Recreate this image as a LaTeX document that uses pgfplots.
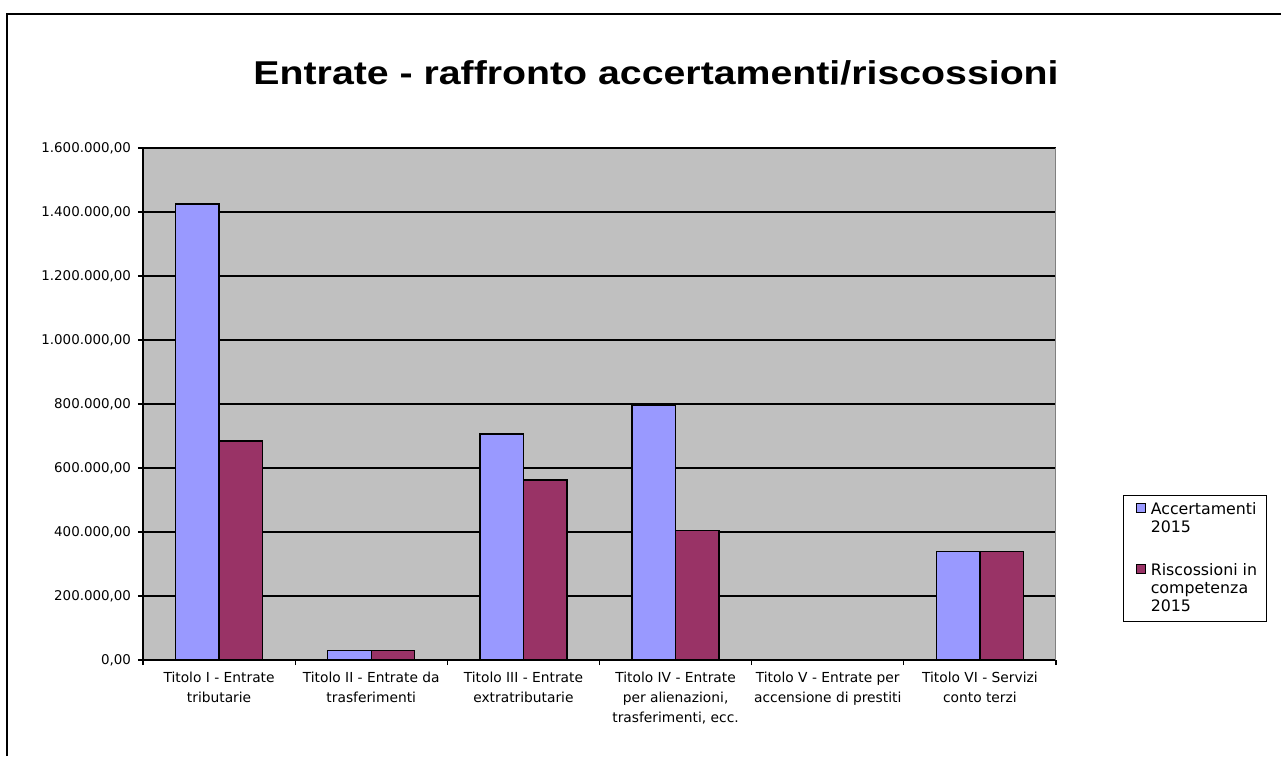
\documentclass[border=0pt]{standalone}
\usepackage{fontspec}
\setmainfont{DejaVu Sans}
\newfontfamily\titlefont[FakeStretch=1.19]{Liberation Sans}
\usepackage{pgfplots}
\pgfplotsset{compat=1.18}

\definecolor{accblue}{HTML}{9999FF}
\definecolor{riscred}{HTML}{993366}
\definecolor{plotgray}{HTML}{C0C0C0}

\begin{document}
\begin{tikzpicture}
\useasboundingbox (0,0) rectangle (640.5pt,378pt);
% outer frame of the chart area
\draw[line width=1pt] (3.5pt,0pt) -- (3.5pt,371pt) -- (640.5pt,371pt);

\begin{axis}[
    at={(71.5pt,48pt)}, anchor=south west,
    scale only axis,
    width=456.5pt, height=256pt,
    axis background/.style={fill=plotgray},
    axis x line=bottom, axis y line=left,
    axis line style={-, black, line width=0.7pt},
    ymin=0, ymax=1600000,
    ytick={0,200000,...,1600000},
    scaled y ticks=false,
    ymajorgrids,
    grid style={black, line width=0.6pt},
    xmin=-0.5, xmax=5.5,
    xtick={-0.5,0.5,1.5,2.5,3.5,4.5,5.5},
    x tick label as interval,
    xticklabels={
        {Titolo I - Entrate\\tributarie},
        {Titolo II - Entrate da\\trasferimenti},
        {Titolo III - Entrate\\extratributarie},
        {Titolo IV - Entrate\\per alienazioni,\\trasferimenti, ecc.},
        {Titolo V - Entrate per\\accensione di prestiti},
        {Titolo VI - Servizi\\conto terzi},
        {}},
    xticklabel style={font=\fontsize{6.9}{10}\selectfont, align=center},
    yticklabel style={font=\fontsize{6.7}{8}\selectfont},
    /pgf/number format/.cd, fixed, fixed zerofill, precision=2, use comma,
        assume math mode=true,
    /pgfplots/.cd,
    tick align=outside,
    major tick length=2.5pt,
    tick style={black, line width=0.6pt},
    ybar=0pt,
    bar width=21.75pt,
    every axis plot/.append style={draw=black, line width=0.7pt},
    title={\titlefont\bfseries\fontsize{16.5}{18}\selectfont Entrate - raffronto accertamenti/riscossioni},
    title style={at={(0.562,1.101)}, anchor=base},
    legend image code/.code={\path (0pt,0pt);
        \draw[#1, line width=0.5pt] (4pt,-2.25pt) rectangle (8.5pt,2.25pt);},
    legend cell align=left,
    legend style={at={(1.0734,0.0742)}, anchor=south west,
        draw=black, line width=0.6pt, fill=white,
        font=\fontsize{7.9}{9}\selectfont, row sep=10pt,
        inner ysep=1.5pt, inner xsep=2pt,
        nodes={align=left, inner xsep=2.5pt}},
]
\addplot[fill=accblue, legend image post style={yshift=5.5pt}] coordinates {
    (0,1425000) (1,29000) (2,706000) (3,797000) (5,340000)};
\addlegendentry{Accertamenti\\2015}
\addplot[fill=riscred, legend image post style={yshift=10pt}] coordinates {
    (0,685000) (1,29000) (2,562000) (3,404000) (5,340000)};
\addlegendentry{Riscossioni in\\competenza\\2015}
\draw[gray, line width=0.5pt] (rel axis cs:1,0) -- (rel axis cs:1,1);
\end{axis}
\end{tikzpicture}
\end{document}
